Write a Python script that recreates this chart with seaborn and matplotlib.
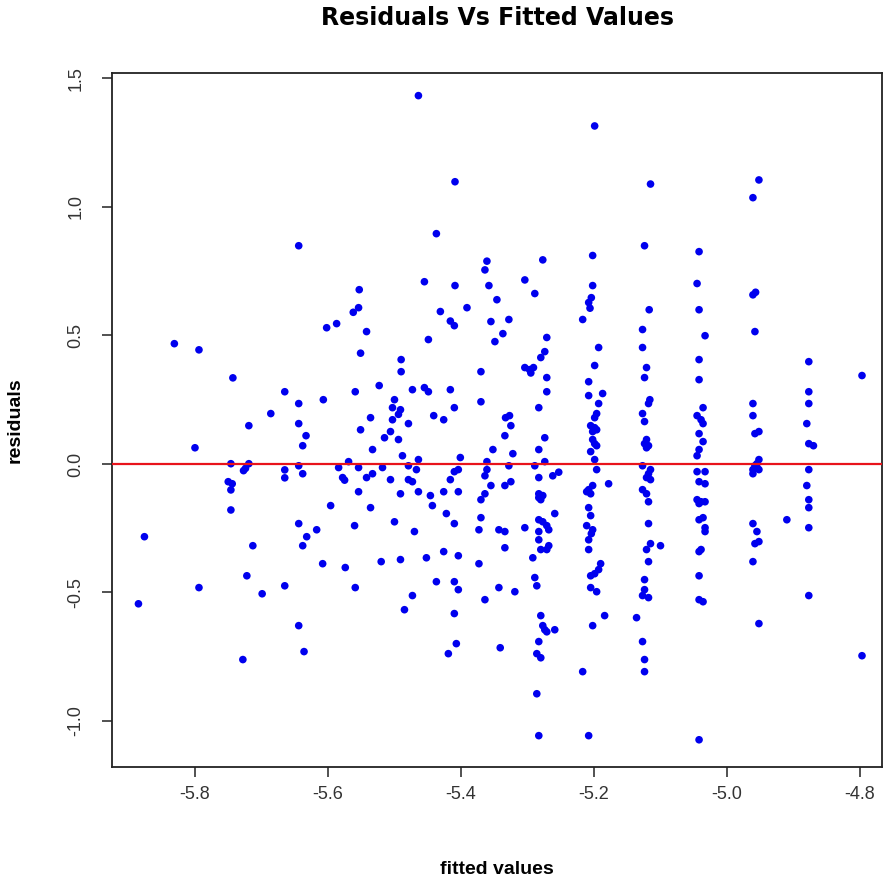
import pandas as pd
import matplotlib
matplotlib.use("Agg")
import matplotlib.pyplot as plt
import seaborn as sns

# (fitted, residual) pairs, grouped by region
pts_top = [(-5.644, 0.849), (-5.464, 1.433), (-5.409, 1.098), (-5.437, 0.896), (-5.361, 0.789),
           (-5.364, 0.755), (-5.455, 0.709), (-5.409, 0.694), (-5.358, 0.694), (-5.553, 0.678),
           (-5.346, 0.639), (-5.199, 1.315), (-5.115, 1.089), (-5.124, 0.849), (-5.202, 0.811),
           (-5.277, 0.794), (-5.304, 0.716), (-5.202, 0.694), (-5.289, 0.663), (-5.204, 0.647),
           (-5.208, 0.628), (-4.952, 1.105), (-4.961, 1.036), (-5.042, 0.826), (-5.045, 0.702),
           (-4.961, 0.658), (-4.957, 0.668)]

pts_far_left = [(-5.831, 0.468), (-5.794, 0.444), (-5.743, 0.335), (-5.665, 0.281), (-5.644, 0.235),
                (-5.686, 0.196), (-5.719, 0.149), (-5.644, 0.157), (-5.633, 0.110), (-5.638, 0.071),
                (-5.800, 0.063), (-5.746, 0.001), (-5.719, 0.001), (-5.724, -0.017), (-5.727, -0.026),
                (-5.644, -0.007), (-5.638, -0.038), (-5.665, -0.023), (-5.665, -0.054), (-5.750, -0.069),
                (-5.744, -0.077), (-5.746, -0.101), (-5.746, -0.179), (-5.644, -0.232), (-5.876, -0.283),
                (-5.713, -0.318), (-5.638, -0.318), (-5.632, -0.283), (-5.722, -0.435), (-5.794, -0.481),
                (-5.699, -0.505), (-5.665, -0.474), (-5.885, -0.544), (-5.644, -0.629), (-5.636, -0.730),
                (-5.728, -0.761)]

pts_mid_left = [(-5.562, 0.590), (-5.554, 0.608), (-5.602, 0.530), (-5.587, 0.546), (-5.542, 0.515),
                (-5.431, 0.593), (-5.416, 0.556), (-5.410, 0.538), (-5.391, 0.608), (-5.355, 0.554),
                (-5.349, 0.476), (-5.449, 0.484), (-5.551, 0.431), (-5.490, 0.406), (-5.490, 0.359),
                (-5.370, 0.359), (-5.523, 0.305), (-5.559, 0.281), (-5.607, 0.250), (-5.473, 0.289),
                (-5.455, 0.297), (-5.449, 0.281), (-5.416, 0.289), (-5.370, 0.242), (-5.500, 0.250),
                (-5.503, 0.219), (-5.491, 0.211), (-5.494, 0.193), (-5.410, 0.219), (-5.441, 0.188),
                (-5.426, 0.172), (-5.536, 0.180), (-5.503, 0.172), (-5.479, 0.157), (-5.551, 0.133),
                (-5.506, 0.126), (-5.515, 0.102), (-5.494, 0.095), (-5.533, 0.056), (-5.352, 0.056),
                (-5.488, 0.032), (-5.401, 0.025), (-5.464, 0.017), (-5.569, 0.009), (-5.361, 0.009),
                (-5.479, -0.007), (-5.584, -0.014), (-5.554, -0.014), (-5.518, -0.014), (-5.467, -0.022),
                (-5.404, -0.022), (-5.410, -0.030), (-5.361, -0.022), (-5.364, -0.046), (-5.578, -0.053),
                (-5.575, -0.063), (-5.542, -0.053), (-5.533, -0.038), (-5.506, -0.061), (-5.479, -0.061),
                (-5.473, -0.069), (-5.416, -0.061), (-5.355, -0.084), (-5.554, -0.108), (-5.491, -0.116),
                (-5.464, -0.108), (-5.446, -0.123), (-5.426, -0.108), (-5.404, -0.108), (-5.370, -0.139),
                (-5.364, -0.116), (-5.596, -0.162), (-5.536, -0.170), (-5.443, -0.162), (-5.422, -0.193),
                (-5.370, -0.209), (-5.560, -0.240), (-5.500, -0.225), (-5.410, -0.232), (-5.617, -0.256),
                (-5.470, -0.263), (-5.373, -0.256), (-5.343, -0.256), (-5.608, -0.388), (-5.574, -0.403),
                (-5.559, -0.481), (-5.520, -0.380), (-5.491, -0.372), (-5.452, -0.365), (-5.426, -0.341),
                (-5.404, -0.357), (-5.373, -0.388), (-5.437, -0.458), (-5.410, -0.458), (-5.404, -0.489),
                (-5.473, -0.512), (-5.485, -0.567), (-5.410, -0.582), (-5.364, -0.528), (-5.343, -0.481),
                (-5.407, -0.699), (-5.419, -0.738), (-5.341, -0.715)]

pts_col_528 = [(-5.328, 0.562), (-5.337, 0.507), (-5.271, 0.492), (-5.274, 0.437), (-5.280, 0.414),
               (-5.304, 0.375), (-5.297, 0.367), (-5.291, 0.375), (-5.295, 0.354), (-5.271, 0.336),
               (-5.271, 0.281), (-5.283, 0.219), (-5.333, 0.180), (-5.327, 0.188), (-5.325, 0.149),
               (-5.334, 0.110), (-5.274, 0.102), (-5.283, 0.056), (-5.322, 0.040), (-5.274, 0.009),
               (-5.328, -0.007), (-5.289, -0.007), (-5.283, -0.053), (-5.262, -0.046), (-5.253, -0.032),
               (-5.334, -0.084), (-5.325, -0.069), (-5.283, -0.116), (-5.277, -0.123), (-5.280, -0.139),
               (-5.283, -0.131), (-5.259, -0.193), (-5.283, -0.217), (-5.277, -0.225), (-5.271, -0.240),
               (-5.268, -0.256), (-5.304, -0.248), (-5.283, -0.263), (-5.334, -0.263), (-5.334, -0.326),
               (-5.319, -0.497), (-5.283, -0.295), (-5.280, -0.333), (-5.271, -0.333), (-5.268, -0.318),
               (-5.292, -0.365), (-5.289, -0.442), (-5.286, -0.474), (-5.280, -0.590), (-5.277, -0.629),
               (-5.274, -0.645), (-5.271, -0.653), (-5.259, -0.645), (-5.283, -0.691), (-5.286, -0.738),
               (-5.280, -0.754), (-5.286, -0.894), (-5.283, -1.057)]

pts_col_520 = [(-5.206, 0.606), (-5.217, 0.562), (-5.193, 0.453), (-5.199, 0.383), (-5.208, 0.320),
               (-5.208, 0.266), (-5.187, 0.274), (-5.193, 0.235), (-5.196, 0.196), (-5.199, 0.180),
               (-5.205, 0.149), (-5.199, 0.141), (-5.202, 0.126), (-5.196, 0.133), (-5.202, 0.095),
               (-5.196, 0.071), (-5.205, 0.048), (-5.199, 0.079), (-5.199, 0.017), (-5.196, -0.022),
               (-5.178, -0.077), (-5.202, -0.084), (-5.208, -0.100), (-5.205, -0.116), (-5.211, -0.108),
               (-5.208, -0.170), (-5.205, -0.201), (-5.211, -0.240), (-5.202, -0.256), (-5.204, -0.271),
               (-5.208, -0.295), (-5.208, -0.333), (-5.190, -0.388), (-5.193, -0.411), (-5.199, -0.427),
               (-5.205, -0.435), (-5.205, -0.481), (-5.196, -0.497), (-5.184, -0.590), (-5.202, -0.629),
               (-5.217, -0.808), (-5.208, -1.057)]

pts_col_512 = [(-5.117, 0.600), (-5.127, 0.523), (-5.127, 0.453), (-5.121, 0.375), (-5.124, 0.336),
               (-5.116, 0.250), (-5.118, 0.235), (-5.127, 0.196), (-5.124, 0.165), (-5.121, 0.095),
               (-5.124, 0.079), (-5.118, 0.071), (-5.121, 0.063), (-5.127, -0.007), (-5.115, -0.022),
               (-5.118, -0.038), (-5.121, -0.053), (-5.115, -0.061), (-5.127, -0.100), (-5.121, -0.116),
               (-5.118, -0.147), (-5.118, -0.232), (-5.115, -0.310), (-5.121, -0.333), (-5.100, -0.318),
               (-5.118, -0.380), (-5.124, -0.450), (-5.124, -0.489), (-5.127, -0.512), (-5.118, -0.520),
               (-5.136, -0.598), (-5.127, -0.691), (-5.124, -0.761), (-5.124, -0.808)]

pts_right = [(-5.042, 0.600), (-5.033, 0.499), (-5.042, 0.406), (-5.042, 0.328), (-5.036, 0.219),
             (-5.045, 0.188), (-5.039, 0.172), (-5.036, 0.157), (-5.042, 0.118), (-5.036, 0.087),
             (-5.042, 0.056), (-5.045, 0.032), (-5.045, -0.030), (-5.033, -0.030), (-5.042, -0.069),
             (-5.033, -0.077), (-5.045, -0.139), (-5.039, -0.147), (-5.033, -0.147), (-5.042, -0.154),
             (-5.042, -0.217), (-5.036, -0.209), (-5.033, -0.248), (-5.033, -0.263), (-5.042, -0.341),
             (-5.039, -0.333), (-5.042, -0.435), (-5.042, -0.528), (-5.036, -0.536), (-5.042, -1.073),
             (-4.958, 0.515), (-4.961, 0.235), (-4.961, 0.188), (-4.958, 0.118), (-4.952, 0.126),
             (-4.952, 0.017), (-4.955, 0.001), (-4.958, -0.007), (-4.961, -0.022), (-4.955, -0.014),
             (-4.961, -0.038), (-4.952, -0.022), (-4.961, -0.232), (-4.955, -0.263), (-4.958, -0.310),
             (-4.952, -0.302), (-4.961, -0.380), (-4.952, -0.621),
             (-4.877, 0.398), (-4.877, 0.281), (-4.877, 0.235), (-4.880, 0.157), (-4.877, 0.079),
             (-4.870, 0.071), (-4.877, -0.022), (-4.880, -0.084), (-4.877, -0.139), (-4.877, -0.170),
             (-4.877, -0.248), (-4.910, -0.217), (-4.877, -0.512), (-4.797, 0.344), (-4.797, -0.746)]

all_pts = pts_top + pts_far_left + pts_mid_left + pts_col_528 + pts_col_520 + pts_col_512 + pts_right
df = pd.DataFrame(all_pts, columns=["fitted", "residuals"])

x_ticks = [-5.8, -5.6, -5.4, -5.2, -5.0, -4.8]
y_ticks = [-1.0, -0.5, 0.0, 0.5, 1.0, 1.5]

sns.set_style("ticks")
plt.rcParams["font.family"] = ["Liberation Sans", "DejaVu Sans"]

fig = plt.figure(figsize=(8.93, 8.86), dpi=100)
ax = fig.add_axes([0.1254, 0.1343, 0.8623, 0.7833])

sns.scatterplot(x="fitted", y="residuals", data=df, color="#0000ee", s=30,
                edgecolor="none", linewidth=0, ax=ax)
ax.axhline(0, color="#e8131b", lw=1.6, zorder=3)

ax.set_xlim(-5.9248, -4.7669)
ax.set_ylim(-1.179, 1.521)
ax.set_xticks(x_ticks)
ax.set_yticks(y_ticks)
ax.set_xticklabels([f"{v:.1f}" for v in x_ticks])
ax.set_yticklabels([f"{v:.1f}" for v in y_ticks], rotation=90, va="center")

for sp in ax.spines.values():
    sp.set_visible(True)
    sp.set_color("#222222")
    sp.set_linewidth(1.3)

ax.tick_params(axis="both", direction="out", length=7, width=1.1, color="#222222",
               bottom=True, left=True, top=False, right=False,
               labelsize=13, labelcolor="#333333")
ax.tick_params(axis="x", pad=7)
ax.tick_params(axis="y", pad=13)

ax.set_xlabel("fitted values", fontsize=14, fontweight="bold", color="black")
ax.set_ylabel("residuals", fontsize=14, fontweight="bold", color="black")
ax.xaxis.set_label_coords(0.5, -0.135)
ax.yaxis.set_label_coords(-0.115, 0.5)

fig.text(0.5566, 1 - 18 / 886, "Residuals Vs Fitted Values", ha="center", va="center",
         fontsize=17, fontweight="bold", color="black", family=["DejaVu Sans"])

fig.savefig("out.png", dpi=100)
